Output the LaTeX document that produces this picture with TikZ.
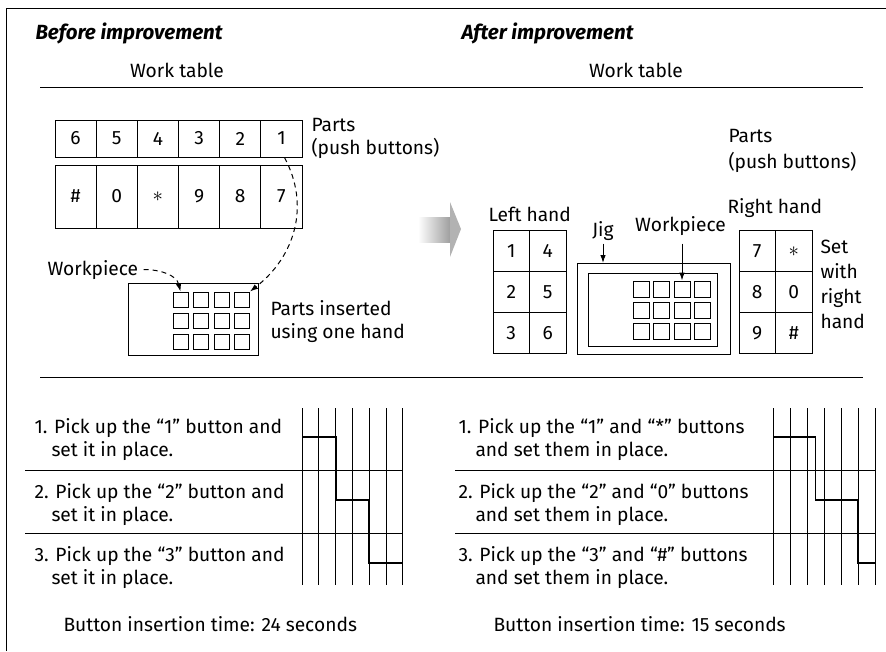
\documentclass[tikz,border=0pt]{standalone}
\usepackage{fontspec}
\setmainfont{Fira Sans}
\usetikzlibrary{arrows.meta, positioning}

\begin{document}
\begin{tikzpicture}[
    x=1pt, y=-1pt,
    font=\fontsize{19.2}{23}\selectfont,
    line width=1pt,
    >=Latex,
    txt/.style={
        anchor=base west,
        inner sep=0pt,
        align=left
    },
    ctxt/.style={
        anchor=base,
        inner sep=0pt
    },
    head/.style={
        txt,
        font=\fontsize{20.5}{24}\selectfont\bfseries\itshape
    },
    topcell/.style={
        draw,
        inner sep=0pt,
        minimum width=41.17pt,
        minimum height=37pt
    },
    botcell/.style={
        topcell,
        minimum height=63pt
    },
    keycell/.style={
        draw,
        inner sep=0pt,
        minimum width=36.5pt,
        minimum height=40.7pt
    },
    hole/.style={
        draw,
        inner sep=0pt,
        minimum size=15pt
    },
    frame/.style={
        draw,
        inner sep=0pt,
        anchor=north west
    },
    link/.style={
        -{Latex[length=8pt,width=5.5pt]},
        line width=1pt
    },
    dashlink/.style={
        link,
        dash pattern=on 5pt off 4pt
    },
    steps/.style={
        line width=1.8pt
    }
]
\useasboundingbox (0,0) rectangle (886,651);

% Frame and table lines
\draw (6,651) -- (6,8) -- (886,8);
\draw (40,87) -- (863,87);
\draw (40,377) -- (863,377);

% Headings
\node[head] (hdbefore) at (35,39.5) {Before improvement};
\node[head] (hdafter) at (461,39.5) {After improvement};
\node[ctxt] (wtbefore) at (177,77.5) {Work table};
\node[ctxt] (wtafter) at (636,77.5) {Work table};

% Before: parts rows
\foreach \lbl [count=\i] in {6,5,4,3,2,1}
    \node[topcell] (bt\i) at ({55+41.17*(\i-0.5)},138.5) {\lbl};
\foreach \lbl [count=\i] in {\#,0,$\ast$,9,8,7}
    \node[botcell] (bb\i) at ({55+41.17*(\i-0.5)},196.5) {\lbl};
% (base anchor = last line)
\node[txt] (partsb) at (311,154) {Parts\\(push buttons)};

% Before: workpiece
\node[frame, minimum width=130pt, minimum height=72pt] (wpb) at (128,283) {};
\foreach \r in {1,2,3}
    \foreach \c in {1,...,4}
        \node[hole] (hb\r\c) at ({180.5+20.5*(\c-1)},{299.5+21*(\r-1)}) {};
\node[txt] (wplb) at (47,275) {Workpiece};
\node[txt] (insb) at (270,338) {Parts inserted\\using one hand};

\draw[dashlink] ([xshift=3pt]bt6.south) .. controls +(26,48) and +(45,-35) .. (hb14.north east);
\draw[dashlink] ([xshift=5pt]wplb.east) .. controls +(18,0) and +(-4,-16) .. (hb11.north);

% Gray arrow
\shade[left color=white, right color=gray!75] (418,217) rectangle (450,242);
\fill[gray!60] (450,202) -- (461,229) -- (450,257) -- cycle;

% After: key blocks
\foreach \a/\b [count=\r] in {1/4,2/5,3/6} {
    \node[keycell] (lka\r) at (511.25,{251.3+40.7*(\r-1)}) {\a};
    \node[keycell] (lkb\r) at (547.75,{251.3+40.7*(\r-1)}) {\b};
}
\foreach \a/\b [count=\r] in {7/$\ast$,8/0,9/\#} {
    \node[keycell] (rka\r) at (757.25,{251.3+40.7*(\r-1)}) {\a};
    \node[keycell] (rkb\r) at (793.75,{251.3+40.7*(\r-1)}) {\b};
}
\node[txt] (partsa) at (728,168) {Parts\\[3pt](push buttons)};
\node[txt] (lefthand) at (488,221.7) {Left hand};
\node[txt] (righthand) at (727,213) {Right hand};
\node[txt] (setlbl) at (820,328) {Set\\[2pt]with\\[2pt]right\\[2pt]hand};

% After: jig and workpiece
\node[frame, minimum width=153pt, minimum height=91pt] (jig) at (577,263) {};
\node[frame, minimum width=129pt, minimum height=73pt] (jigin) at (588,273) {};
\foreach \r in {1,2,3}
    \foreach \c in {1,...,4}
        \node[hole, minimum size=16pt] (ha\r\c) at ({641+20.5*(\c-1)},{289+21*(\r-1)}) {};
\node[ctxt] (jiglbl) at (603,236) {Jig};
\node[ctxt] (wpla) at (680.5,231) {Workpiece};

\draw[link] ([yshift=-3pt]jiglbl.south) -- (jiglbl.south |- jig.north);
\draw[link] ([yshift=-8pt]ha13.north |- wpla.south) -- (ha13.north);

% Before: steps
\node[txt] (sb1) at (34,456) {1. Pick up the “1” button and\\\hspace*{17pt}set it in place.};
\node[txt] (sb2) at (34,521) {2. Pick up the “2” button and\\\hspace*{17pt}set it in place.};
\node[txt] (sb3) at (34,584) {3. Pick up the “3” button and\\\hspace*{17pt}set it in place.};
\draw (25,470) -- (403,470);
\draw (25,533) -- (403,533);
\foreach \k in {0,...,6}
    \draw ({302+16.83*\k},408) -- ({302+16.83*\k},585);
\draw[steps] (302,437) -| (335.7,500) -| (369.3,563) -- (403,563);
\node[txt] (timeb) at (63,631.7) {Button insertion time: 24 seconds};

% After: steps
\node[txt] (sa1) at (458,456) {1. Pick up the “1” and “*” buttons\\\hspace*{17pt}and set them in place.};
\node[txt] (sa2) at (458,521) {2. Pick up the “2” and “0” buttons\\\hspace*{17pt}and set them in place.};
\node[txt] (sa3) at (458,584) {3. Pick up the “3” and “\#” buttons\\\hspace*{17pt}and set them in place.};
\draw (455,470) -- (875,470);
\draw (455,533) -- (875,533);
\foreach \k in {0,...,6}
    \draw ({773+17*\k},408) -- ({773+17*\k},585);
\draw[steps] (773,437) -| (815.5,500) -| (858,563) -- (875,563);
\node[txt] (timea) at (493,631.7) {Button insertion time: 15 seconds};

\end{tikzpicture}
\end{document}
